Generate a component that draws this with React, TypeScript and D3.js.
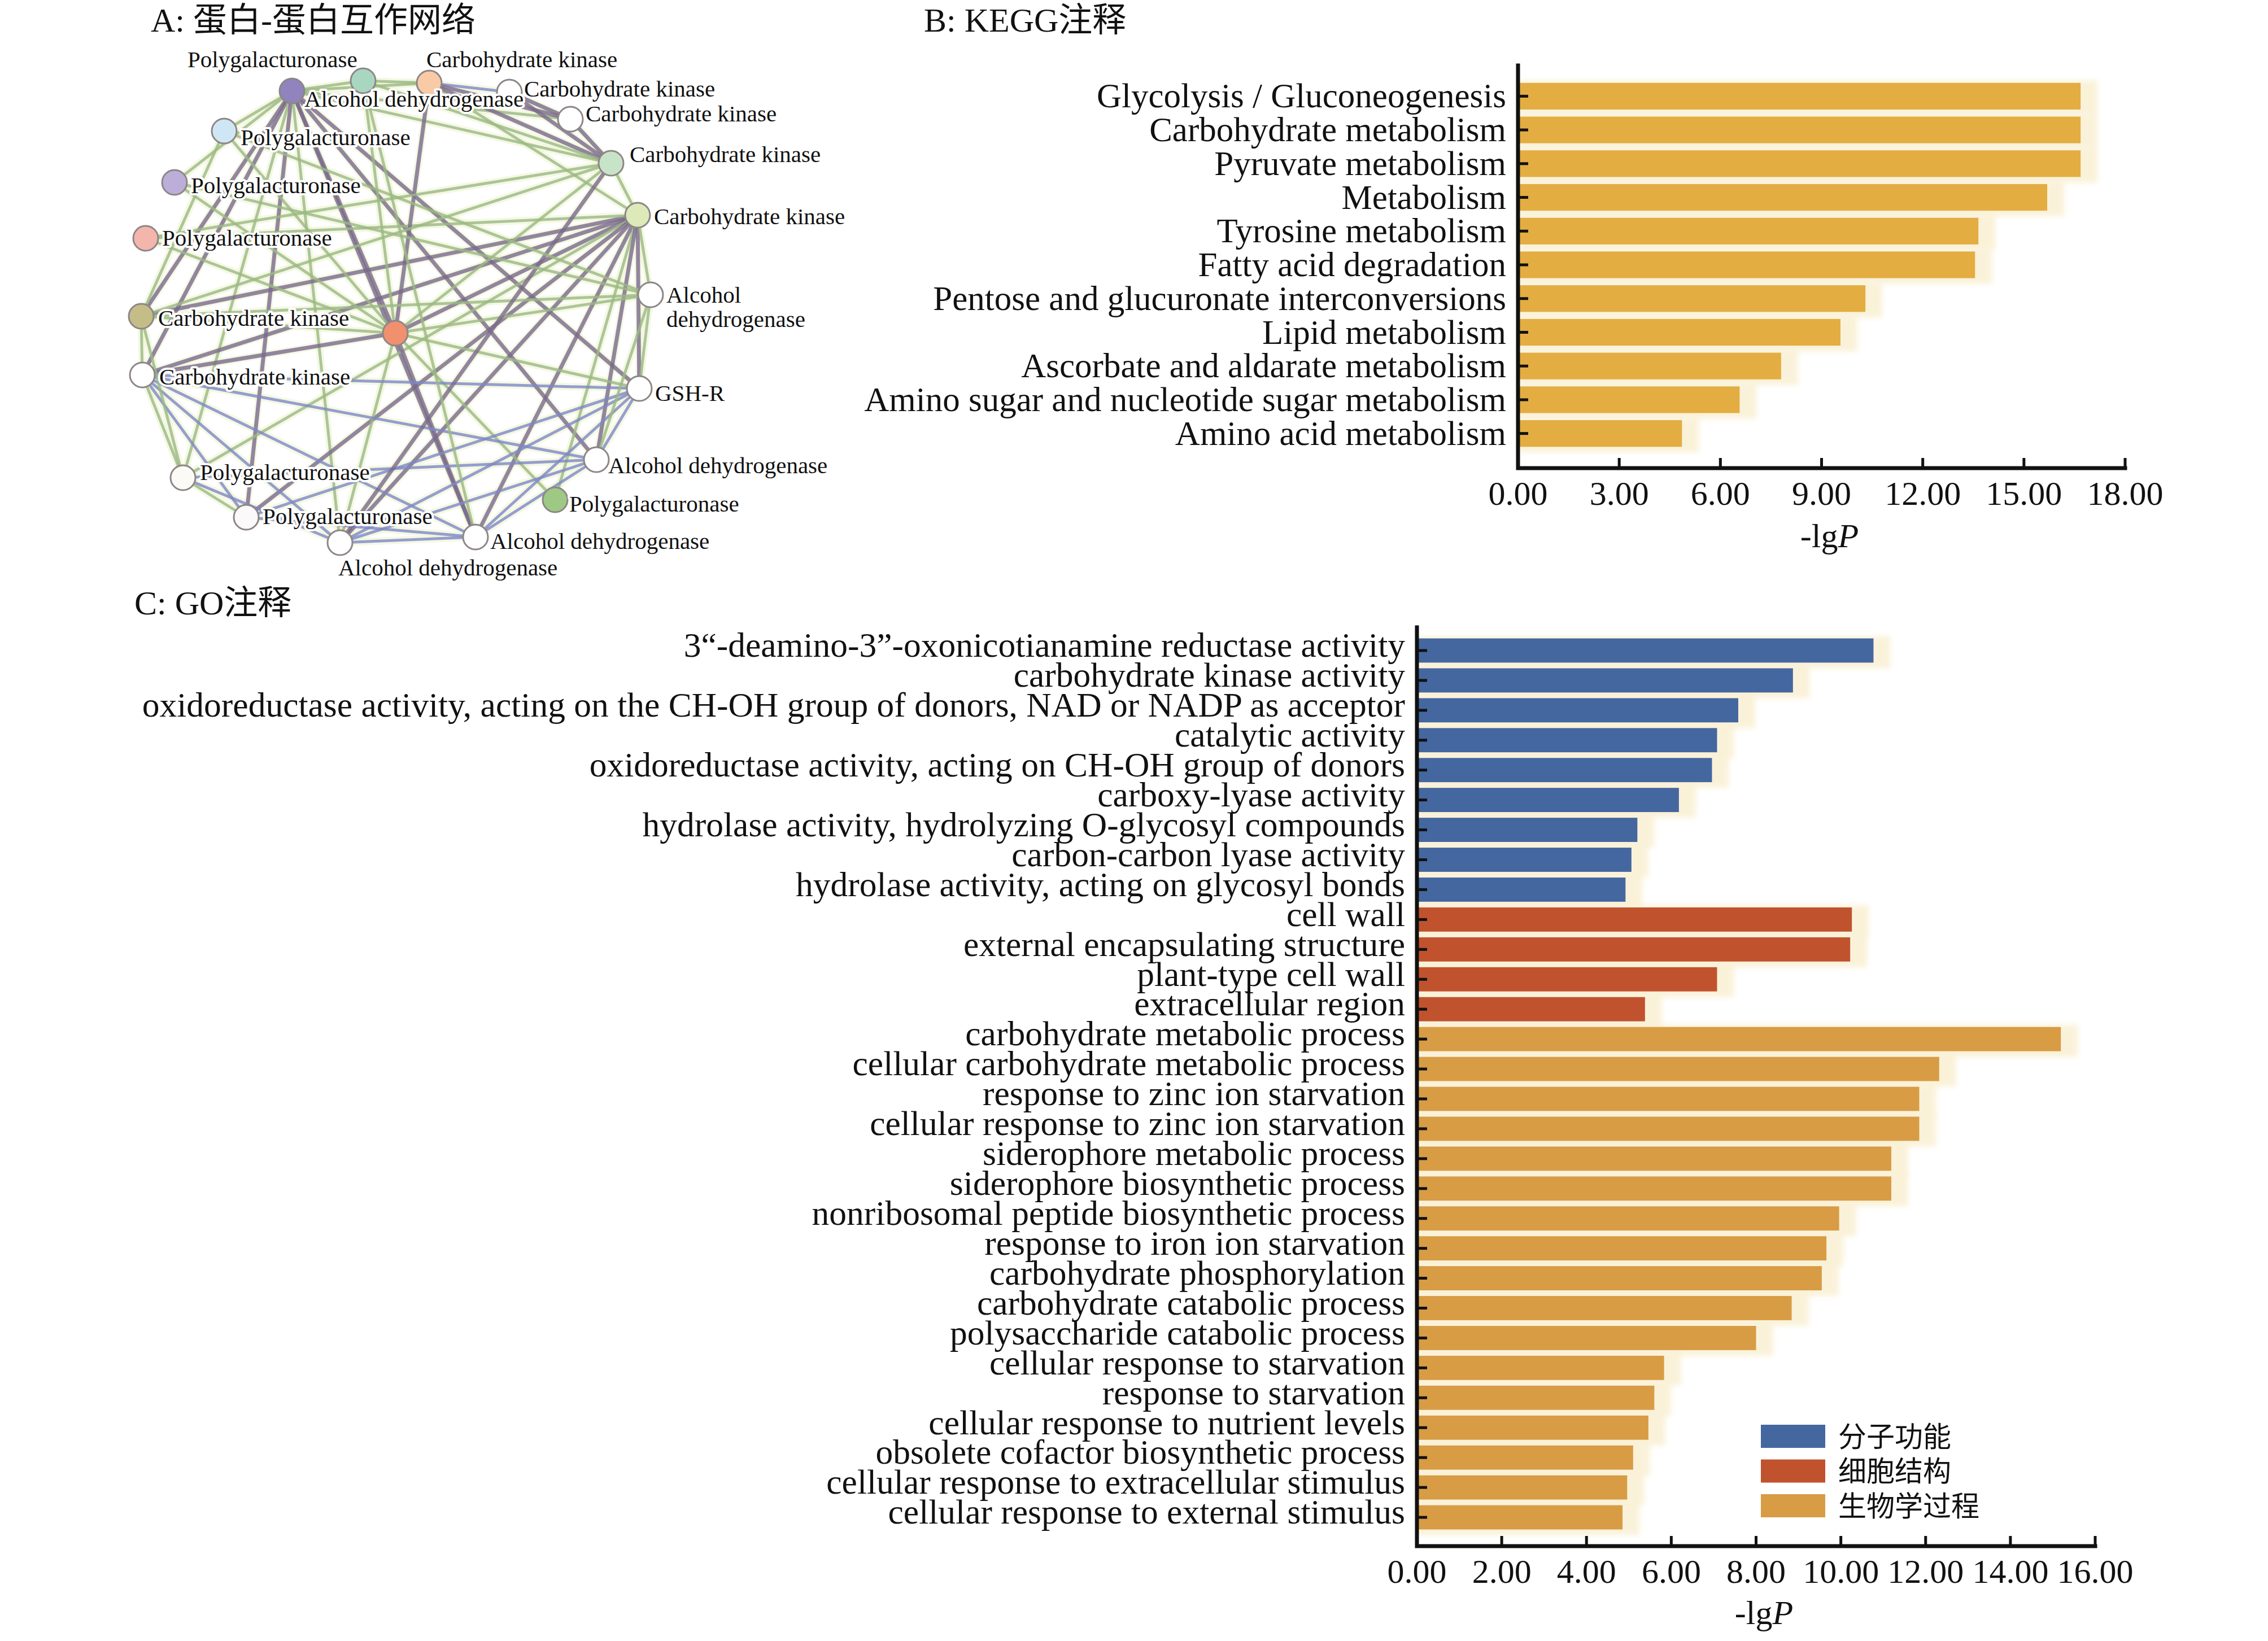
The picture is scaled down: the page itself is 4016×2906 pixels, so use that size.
import React, { useEffect, useRef } from 'react';
import * as d3 from 'd3';

const W = 4016;
const H = 2906;
const SERIF = '"Liberation Serif", "Times New Roman", "Noto Sans CJK SC", serif';

// ---- B: KEGG ----
const keggTerms = [
  'Glycolysis / Gluconeogenesis',
  'Carbohydrate metabolism',
  'Pyruvate metabolism',
  'Metabolism',
  'Tyrosine metabolism',
  'Fatty acid degradation',
  'Pentose and glucuronate interconversions',
  'Lipid metabolism',
  'Ascorbate and aldarate metabolism',
  'Amino sugar and nucleotide sugar metabolism',
  'Amino acid metabolism',
];
const keggValues = [16.68, 16.68, 16.68, 15.69, 13.65, 13.55, 10.3, 9.56, 7.8, 6.57, 4.86];
const keggTicks = [0, 3, 6, 9, 12, 15, 18];

// ---- C: GO ----
const goTerms = [
  '3“-deamino-3”-oxonicotianamine reductase activity',
  'carbohydrate kinase activity',
  'oxidoreductase activity, acting on the CH-OH group of donors, NAD or NADP as acceptor',
  'catalytic activity',
  'oxidoreductase activity, acting on CH-OH group of donors',
  'carboxy-lyase activity',
  'hydrolase activity, hydrolyzing O-glycosyl compounds',
  'carbon-carbon lyase activity',
  'hydrolase activity, acting on glycosyl bonds',
  'cell wall',
  'external encapsulating structure',
  'plant-type cell wall',
  'extracellular region',
  'carbohydrate metabolic process',
  'cellular carbohydrate metabolic process',
  'response to zinc ion starvation',
  'cellular response to zinc ion starvation',
  'siderophore metabolic process',
  'siderophore biosynthetic process',
  'nonribosomal peptide biosynthetic process',
  'response to iron ion starvation',
  'carbohydrate phosphorylation',
  'carbohydrate catabolic process',
  'polysaccharide catabolic process',
  'cellular response to starvation',
  'response to starvation',
  'cellular response to nutrient levels',
  'obsolete cofactor biosynthetic process',
  'cellular response to extracellular stimulus',
  'cellular response to external stimulus',
];
const goValues = [
  10.77, 8.87, 7.58, 7.08, 6.96, 6.18, 5.2, 5.06, 4.92,
  10.26, 10.22, 7.08, 5.38,
  15.19, 12.32, 11.85, 11.85, 11.19, 11.19, 9.96, 9.66, 9.55, 8.84, 8.0, 5.83, 5.6, 5.46, 5.1, 4.96, 4.85,
];
const goGroups = [
  0, 0, 0, 0, 0, 0, 0, 0, 0,
  1, 1, 1, 1,
  2, 2, 2, 2, 2, 2, 2, 2, 2, 2, 2, 2, 2, 2, 2, 2, 2,
];
const goCategories = ['分子功能', '细胞结构', '生物学过程'];
const goColors = ['#4467a0', '#c0532e', '#d89c45'];
const goTicks = [0, 2, 4, 6, 8, 10, 12, 14, 16];

// ---- A: PPI network (layout units 0-100) ----
const nodes = [
  { id: 1, label: ['Polygalacturonase'], fill: '#8f84bd', x: 31.7, y: 6.1, lx: 13.2, ly: 1.9 },
  { id: 2, label: ['Alcohol dehydrogenase'], fill: '#a9d6c1', x: 44.3, y: 4.3, lx: 33.9, ly: 8.9 },
  { id: 3, label: ['Carbohydrate kinase'], fill: '#f8caa5', x: 56.0, y: 4.7, lx: 55.5, ly: 1.9 },
  { id: 4, label: ['Carbohydrate kinase'], fill: '#ffffff', x: 70.2, y: 6.3, lx: 72.8, ly: 7.1 },
  { id: 5, label: ['Carbohydrate kinase'], fill: '#ffffff', x: 81.0, y: 11.1, lx: 83.7, ly: 11.5 },
  { id: 6, label: ['Carbohydrate kinase'], fill: '#c8e4c8', x: 88.2, y: 18.9, lx: 91.5, ly: 18.7 },
  { id: 7, label: ['Carbohydrate kinase'], fill: '#dde9b8', x: 92.9, y: 28.1, lx: 95.8, ly: 29.7 },
  { id: 8, label: ['Alcohol', 'dehydrogenase'], fill: '#ffffff', x: 95.2, y: 42.2, lx: 98.0, ly: 43.6 },
  { id: 9, label: ['GSH-R'], fill: '#ffffff', x: 93.2, y: 58.8, lx: 96.0, ly: 61.0 },
  { id: 10, label: ['Alcohol dehydrogenase'], fill: '#ffffff', x: 85.6, y: 71.4, lx: 87.7, ly: 73.8 },
  { id: 11, label: ['Polygalacturonase'], fill: '#9dc985', x: 78.3, y: 78.5, lx: 80.8, ly: 80.6 },
  { id: 12, label: ['Alcohol dehydrogenase'], fill: '#ffffff', x: 64.2, y: 85.1, lx: 66.8, ly: 87.2 },
  { id: 13, label: ['Alcohol dehydrogenase'], fill: '#ffffff', x: 40.2, y: 86.1, lx: 39.9, ly: 91.9 },
  { id: 14, label: ['Polygalacturonase'], fill: '#fbf9f9', x: 23.6, y: 81.6, lx: 26.5, ly: 82.8 },
  { id: 15, label: ['Polygalacturonase'], fill: '#fbfaf6', x: 12.4, y: 74.6, lx: 15.4, ly: 75.0 },
  { id: 16, label: ['Carbohydrate kinase'], fill: '#ffffff', x: 5.2, y: 56.4, lx: 8.2, ly: 58.1 },
  { id: 17, label: ['Carbohydrate kinase'], fill: '#c4bd88', x: 5.0, y: 46.0, lx: 8.0, ly: 47.7 },
  { id: 18, label: ['Polygalacturonase'], fill: '#f4b5ad', x: 5.8, y: 32.2, lx: 8.7, ly: 33.5 },
  { id: 19, label: ['Polygalacturonase'], fill: '#bbaed8', x: 10.9, y: 22.3, lx: 13.8, ly: 24.2 },
  { id: 20, label: ['Polygalacturonase'], fill: '#cfe7f4', x: 19.7, y: 13.2, lx: 22.6, ly: 15.7 },
  { id: 21, label: [], fill: '#f0906e', x: 50.0, y: 49.0, lx: 0, ly: 0 },
];
// p: co-expression / text mining (mauve), g: neighbourhood (green), b: homology (blue)
const edges = [
  '1-2g', '1-3g', '1-20g', '1-19g', '1-17p', '1-16p', '1-15g', '1-14p', '1-13g', '1-21p', '1-12p',
  '1-10p', '1-9p', '1-6g', '1-5g',
  '7-17p', '7-16p', '7-21p', '7-15g', '7-14p', '7-13p', '7-12p', '7-11g', '7-10p', '7-9p', '7-8g',
  '7-6g', '7-18g', '7-3g',
  '21-17g', '21-16p', '21-19g', '21-20g', '21-18g', '21-12p', '21-11g', '21-9g', '21-8g', '21-6g',
  '21-13g', '21-3p', '21-2g',
  '16-9b', '16-10b', '16-12b', '16-13b', '16-14b', '16-15g', '16-17g',
  '17-6g', '17-15g', '17-20g', '17-8g',
  '9-13b', '9-12b', '9-10b', '9-8g', '9-14b',
  '10-13b', '10-12b', '10-8g', '10-15b',
  '12-13b', '12-14b', '13-6p', '13-15b',
  '3-4b', '3-5p', '3-6p', '2-3g', '2-6g', '2-12g',
  '4-5p', '4-6p', '5-6p', '6-18g', '14-15g', '20-8g', '19-8g',
];
const edgeStyle: Record<string, { color: string; width: number }> = {
  p: { color: '#7a6a8c', width: 7 },
  g: { color: '#9ab985', width: 5 },
  b: { color: '#7e88c8', width: 5 },
};

const App: React.FC = () => {
  const svgRef = useRef<SVGSVGElement>(null);

  useEffect(() => {
    document.body.style.margin = '0';
    if (!svgRef.current) return;
    const svg = d3.select(svgRef.current);
    svg.selectAll('*').remove();

    const defs = svg.append('defs');
    defs.append('filter').attr('id', 'glow')
      .attr('x', '-10%').attr('y', '-50%').attr('width', '120%').attr('height', '200%')
      .append('feGaussianBlur').attr('stdDeviation', 5);

    svg.append('rect').attr('width', W).attr('height', H).attr('fill', '#fff');

    // ---------- titles ----------
    const title = (x: number, y: number, t: string) =>
      svg.append('text').attr('x', x).attr('y', y).attr('font-family', SERIF)
        .attr('font-size', 60).attr('fill', '#111').text(t);
    title(267, 56, 'A: 蛋白-蛋白互作网络');
    title(1636, 56, 'B: KEGG注释');
    title(238, 1088, 'C: GO注释');

    // ---------- A: network ----------
    const nx = d3.scaleLinear().domain([0, 100]).range([200, 1200]);
    const ny = d3.scaleLinear().domain([0, 100]).range([100, 1100]);
    const byId = new Map(nodes.map(n => [n.id, n]));
    const edgeData = edges.map(e => {
      const m = e.match(/^(\d+)-(\d+)([pgb])$/)!;
      return { s: byId.get(+m[1])!, t: byId.get(+m[2])!, type: m[3] };
    });
    const gNet = svg.append('g');
    gNet.selectAll('.halo').data(edgeData).enter().append('line')
      .attr('x1', d => nx(d.s.x)).attr('y1', d => ny(d.s.y))
      .attr('x2', d => nx(d.t.x)).attr('y2', d => ny(d.t.y))
      .attr('stroke', '#edf3cf').attr('stroke-width', 13).attr('opacity', 0.55);
    gNet.selectAll('.edge').data(edgeData).enter().append('line')
      .attr('x1', d => nx(d.s.x)).attr('y1', d => ny(d.s.y))
      .attr('x2', d => nx(d.t.x)).attr('y2', d => ny(d.t.y))
      .attr('stroke', d => edgeStyle[d.type].color)
      .attr('stroke-width', d => edgeStyle[d.type].width)
      .attr('opacity', 0.8);
    gNet.selectAll('.node').data(nodes).enter().append('circle')
      .attr('cx', d => nx(d.x)).attr('cy', d => ny(d.y)).attr('r', 22)
      .attr('fill', d => d.fill).attr('stroke', '#8e8686').attr('stroke-width', 3);
    const lab = gNet.selectAll('.lab').data(nodes.filter(n => n.label.length)).enter().append('text')
      .attr('x', d => nx(d.lx)).attr('y', d => ny(d.ly))
      .attr('font-family', SERIF).attr('font-size', 41).attr('fill', '#111')
      .attr('stroke', '#fff').attr('stroke-width', 8).attr('stroke-linejoin', 'round')
      .attr('paint-order', 'stroke');
    lab.each(function (d) {
      const t = d3.select(this);
      d.label.forEach((line, i) => {
        t.append('tspan').attr('x', nx(d.lx)).attr('dy', i === 0 ? 0 : 43).text(line);
      });
    });

    // ---------- shared bar chart drawer ----------
    const drawBars = (opts: {
      terms: string[]; values: number[]; colors: string[]; ticks: number[];
      x: d3.ScaleLinear<number, number>; y: d3.ScaleBand<string>;
      axisTop: number; axisY: number; titleY: number; labelSize: number; labelShift: number;
    }) => {
      const { terms, values, colors, ticks, x, y, axisTop, axisY, titleY, labelSize, labelShift } = opts;
      const g = svg.append('g');
      const x0 = x(0);
      const bw = y.bandwidth();
      // cream glow behind bars
      g.selectAll('.glow').data(terms).enter().append('rect')
        .attr('x', x0).attr('y', d => y(d)! - 4)
        .attr('width', (d, i) => x(values[i]) - x0 + 30).attr('height', bw + 14)
        .attr('fill', '#f8ecc9').attr('opacity', 0.7).attr('filter', 'url(#glow)');
      g.selectAll('.bar').data(terms).enter().append('rect')
        .attr('x', x0).attr('y', d => y(d)!)
        .attr('width', (d, i) => x(values[i]) - x0).attr('height', bw)
        .attr('fill', (d, i) => colors[i]);
      // axes
      g.append('path')
        .attr('d', `M${x0},${axisTop}V${axisY}H${x(ticks[ticks.length - 1])}`)
        .attr('fill', 'none').attr('stroke', '#111').attr('stroke-width', 7)
        .attr('stroke-linecap', 'square');
      g.selectAll('.yt').data(terms).enter().append('line')
        .attr('x1', x0).attr('x2', x0 + 18)
        .attr('y1', d => y(d)! + bw / 2).attr('y2', d => y(d)! + bw / 2)
        .attr('stroke', '#111').attr('stroke-width', 5);
      g.selectAll('.xt').data(ticks.slice(1)).enter().append('line')
        .attr('x1', d => x(d)).attr('x2', d => x(d))
        .attr('y1', axisY).attr('y2', axisY - 18)
        .attr('stroke', '#111').attr('stroke-width', 5);
      g.selectAll('.yl').data(terms).enter().append('text')
        .attr('x', x0 - 21).attr('y', d => y(d)! + bw / 2 - labelShift).attr('dy', '0.33em')
        .attr('text-anchor', 'end').attr('font-family', SERIF).attr('font-size', labelSize)
        .attr('fill', '#111').text(d => d);
      g.selectAll('.xl').data(ticks).enter().append('text')
        .attr('x', d => x(d)).attr('y', axisY + 65)
        .attr('text-anchor', 'middle').attr('font-family', SERIF).attr('font-size', 60)
        .attr('fill', '#111').text(d => d3.format('.2f')(d));
      const tt = g.append('text')
        .attr('x', (x0 + x(ticks[ticks.length - 1])) / 2 + 14).attr('y', titleY)
        .attr('text-anchor', 'middle').attr('font-family', SERIF).attr('font-size', 60)
        .attr('fill', '#111');
      tt.append('tspan').text('-lg');
      tt.append('tspan').attr('font-style', 'italic').text('P');
    };

    // ---------- B: KEGG ----------
    drawBars({
      terms: keggTerms,
      values: keggValues,
      colors: keggTerms.map(() => '#e3ad42'),
      ticks: keggTicks,
      x: d3.scaleLinear().domain([0, 18]).range([2688, 3763]),
      y: d3.scaleBand<string>().domain(keggTerms).range([140.5, 797.5]).paddingInner(0.21).paddingOuter(0.105),
      axisTop: 116, axisY: 829, titleY: 969, labelSize: 61, labelShift: 0,
    });

    // ---------- C: GO ----------
    drawBars({
      terms: goTerms,
      values: goValues,
      colors: goGroups.map(k => goColors[k]),
      ticks: goTicks,
      x: d3.scaleLinear().domain([0, 16]).range([2509, 3710]),
      y: d3.scaleBand<string>().domain(goTerms).range([1125.5, 2713.5]).paddingInner(0.19).paddingOuter(0.095),
      axisTop: 1111, axisY: 2738, titleY: 2876, labelSize: 61.5, labelShift: 9,
    });

    // legend
    const lg = svg.append('g');
    lg.append('rect').attr('x', 3100).attr('y', 2500).attr('width', 470).attr('height', 205)
      .attr('fill', '#fff');
    const ls = lg.selectAll('.li').data(goCategories).enter().append('g')
      .attr('transform', (d, i) => `translate(3118,${2523 + i * 61.5})`);
    ls.append('rect').attr('width', 114).attr('height', 41).attr('fill', (d, i) => goColors[i]);
    ls.append('text').attr('x', 137).attr('y', 20.5).attr('dy', '0.36em')
      .attr('font-family', SERIF).attr('font-size', 50).attr('fill', '#111').text(d => d);
  }, []);

  return <svg ref={svgRef} width={W} height={H} style={{ display: 'block' }} />;
};

export default App;
